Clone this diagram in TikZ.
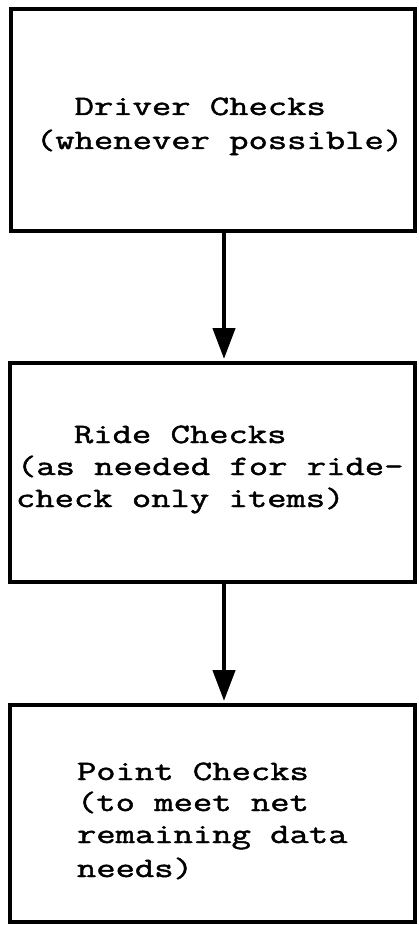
\documentclass[tikz,border=0pt]{standalone}
\usepackage{fontspec}
\setmonofont{Latin Modern Mono}[FakeStretch=1.34,FakeBold=1.6]
\usetikzlibrary{arrows.meta}
\tikzset{
  box/.style={draw=black, line width=3.2pt, fill=none, inner sep=0pt, outer sep=0pt, anchor=north west},
  txt/.style={anchor=base west, inner sep=0pt, outer sep=0pt, font=\ttfamily\fontsize{28}{32}\selectfont, text=black},
  flow/.style={line width=4.5pt, -{Triangle[width=22pt,length=31pt]}, shorten >=4pt}
}
\begin{document}
\begin{tikzpicture}[x=1pt,y=1pt]
\useasboundingbox[fill=white] (0,0) rectangle (418,-925);
% boxes
\node[box, minimum width=404pt, minimum height=222pt] (b1) at (11,-9) {};
\node[box, minimum width=405pt, minimum height=219pt] (b2) at (10,-363) {};
\node[box, minimum width=405pt, minimum height=217pt] (b3) at (10,-705) {};
% texts
\node[txt] (t11) at (36,-115) {\hphantom{xx}Driver Checks};
\node[txt] (t12) at (36,-149) {(whenever possible)};
\node[txt] (t21) at (16,-443) {\hphantom{xxx}Ride Checks};
\node[txt] (t22) at (17,-475) {(as needed for ride-};
\node[txt] (t23) at (16,-507) {check only items)};
\node[txt] (t31) at (77,-780) {Point Checks};
\node[txt] (t32) at (77,-811) {(to meet net};
\node[txt] (t33) at (77,-843) {remaining data};
\node[txt] (t34) at (77,-877) {needs)};
% arrows
\coordinate (ax) at (224,0);
\draw[flow] (b1.south -| ax) -- (b2.north -| ax);
\draw[flow] (b2.south -| ax) -- (b3.north -| ax);
\end{tikzpicture}
\end{document}
